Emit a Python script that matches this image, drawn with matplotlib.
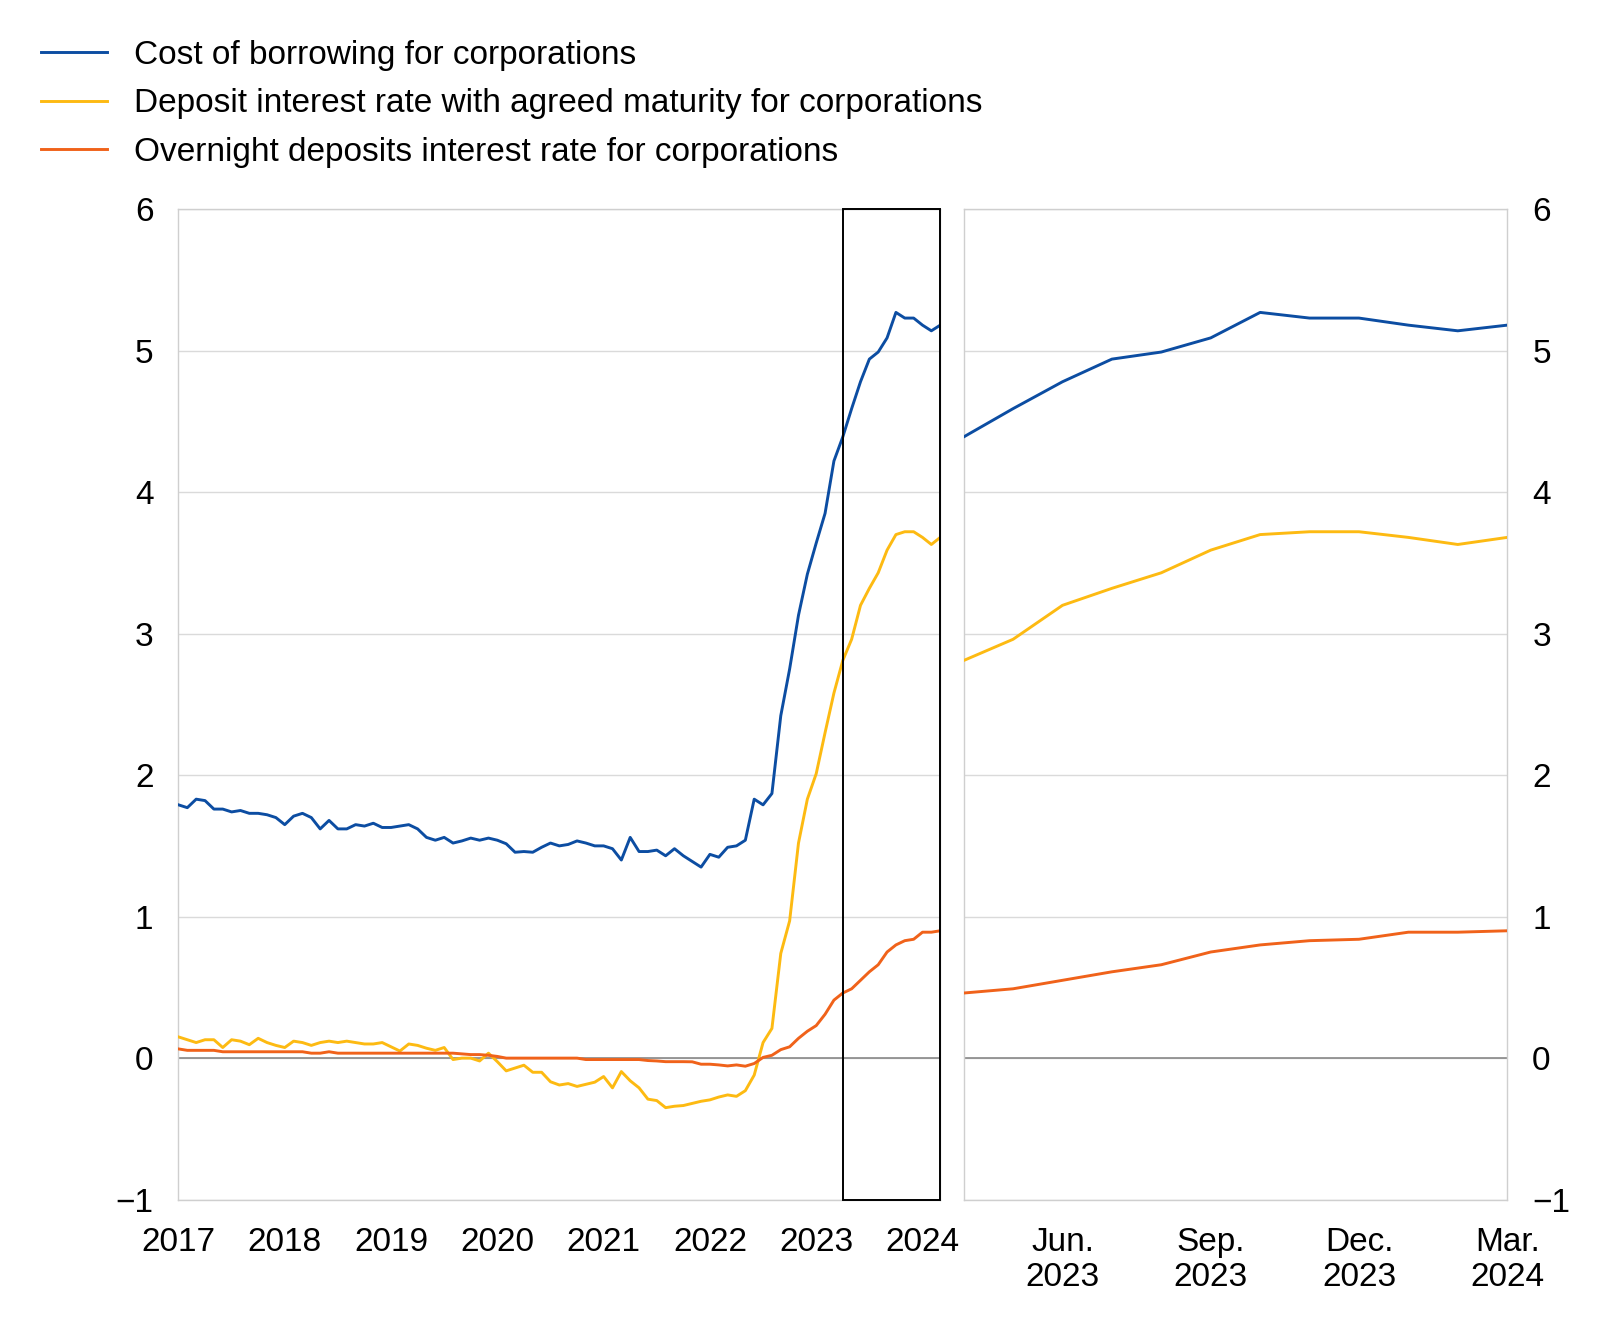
import matplotlib
matplotlib.use("Agg")
import matplotlib.pyplot as plt
from matplotlib.patches import Rectangle
import numpy as np

plt.rcParams['font.family'] = ['Liberation Sans', 'DejaVu Sans']

# ---------------- data (monthly, Jan 2017 - Mar 2024) ----------------
cost_borrowing = [
    1.79, 1.77, 1.83, 1.82, 1.76, 1.76, 1.74, 1.75, 1.73, 1.73, 1.72, 1.70,   # 2017
    1.65, 1.71, 1.73, 1.70, 1.62, 1.68, 1.62, 1.62, 1.65, 1.64, 1.66, 1.63,   # 2018
    1.63, 1.64, 1.65, 1.62, 1.56, 1.54, 1.56, 1.52, 1.535, 1.555, 1.54, 1.555,  # 2019
    1.54, 1.515, 1.455, 1.46, 1.455, 1.49, 1.52, 1.50, 1.51, 1.535, 1.52, 1.50,  # 2020
    1.50, 1.48, 1.40, 1.56, 1.46, 1.46, 1.47, 1.43, 1.48, 1.43, 1.39, 1.35,   # 2021
    1.44, 1.42, 1.49, 1.50, 1.54, 1.83, 1.79, 1.87, 2.42, 2.75, 3.13, 3.42,   # 2022
    3.64, 3.85, 4.22, 4.39, 4.59, 4.78, 4.94, 4.99, 5.09, 5.27, 5.23, 5.23,   # 2023
    5.18, 5.14, 5.18,                                                         # 2024
]
deposit_agreed = [
    0.15, 0.13, 0.11, 0.13, 0.13, 0.075, 0.13, 0.12, 0.095, 0.14, 0.11, 0.09,
    0.075, 0.12, 0.11, 0.09, 0.11, 0.12, 0.11, 0.12, 0.11, 0.10, 0.10, 0.11,
    0.08, 0.05, 0.10, 0.09, 0.07, 0.055, 0.075, -0.01, 0.00, 0.00, -0.02, 0.035,
    -0.025, -0.09, -0.07, -0.05, -0.10, -0.10, -0.167, -0.19, -0.18, -0.20, -0.185, -0.17,
    -0.13, -0.21, -0.095, -0.16, -0.21, -0.29, -0.30, -0.35, -0.34, -0.335, -0.32, -0.305,
    -0.295, -0.275, -0.26, -0.27, -0.23, -0.12, 0.11, 0.21, 0.74, 0.97, 1.52, 1.83,
    2.01, 2.30, 2.58, 2.81, 2.96, 3.20, 3.32, 3.43, 3.59, 3.70, 3.72, 3.72,
    3.68, 3.63, 3.68,
]
overnight = [
    0.065, 0.055, 0.055, 0.055, 0.055, 0.045, 0.045, 0.045, 0.045, 0.045, 0.045, 0.045,
    0.045, 0.045, 0.045, 0.035, 0.035, 0.045, 0.035, 0.035, 0.035, 0.035, 0.035, 0.035,
    0.035, 0.035, 0.035, 0.035, 0.035, 0.035, 0.035, 0.035, 0.03, 0.025, 0.025, 0.02,
    0.012, 0.0, 0.0, 0.0, 0.0, 0.0, 0.0, 0.0, 0.0, 0.0, -0.01, -0.01,
    -0.01, -0.01, -0.01, -0.01, -0.01, -0.017, -0.02, -0.025, -0.025, -0.025, -0.026, -0.043,
    -0.043, -0.048, -0.055, -0.048, -0.057, -0.038, 0.005, 0.02, 0.06, 0.08, 0.14, 0.19,
    0.23, 0.31, 0.41, 0.46, 0.49, 0.55, 0.61, 0.66, 0.75, 0.80, 0.83, 0.84,
    0.89, 0.89, 0.90,
]

series_labels = [
    "Cost of borrowing for corporations",
    "Deposit interest rate with agreed maturity for corporations",
    "Overnight deposits interest rate for corporations",
]
series_colors = ["#0C4DA2", "#FDBA12", "#F0621A"]

year_labels = ["2017", "2018", "2019", "2020", "2021", "2022", "2023", "2024"]
zoom_start = 75  # April 2023 (index in monthly series)
zoom_tick_labels = ["Jun.\n2023", "Sep.\n2023", "Dec.\n2023", "Mar.\n2024"]
zoom_tick_months = [2, 5, 8, 11]  # offsets from April 2023
y_ticks = [-1, 0, 1, 2, 3, 4, 5, 6]

# ---------------- figure ----------------
fig = plt.figure(figsize=(16, 13.2), dpi=100)
W, H = 1569.0, 1294.0
axL = fig.add_axes([175 / W, 1 - 1176 / H, (922 - 175) / W, (1176 - 205) / H])
axR = fig.add_axes([945 / W, 1 - 1176 / H, (1478 - 945) / W, (1176 - 205) / H])

all_series = [cost_borrowing, deposit_agreed, overnight]
x_full = np.arange(len(cost_borrowing))
handles = []
for s, c, lab in zip(all_series, series_colors, series_labels):
    h, = axL.plot(x_full, s, color=c, lw=2.1, label=lab, zorder=3)
    handles.append(h)
    sub = s[zoom_start:]
    axR.plot(np.arange(len(sub)), sub, color=c, lw=2.1, zorder=3)

FS = 24
grid_c = "#DADADA"
for ax in (axL, axR):
    ax.set_ylim(-1, 6)
    ax.set_yticks(y_ticks)
    ax.set_yticklabels([("\u2212" + str(abs(v))) if v < 0 else str(v) for v in y_ticks])
    ax.grid(axis='y', color=grid_c, lw=1.0, zorder=0)
    ax.axhline(0, color="#808080", lw=1.1, zorder=2)
    for sp in ax.spines.values():
        sp.set_color("#CFCFCF")
        sp.set_linewidth(1.0)
    ax.tick_params(length=0, labelsize=FS, pad=18)

axL.set_xlim(0, len(cost_borrowing) - 1)
axL.set_xticks(np.arange(0, 12 * len(year_labels), 12))
axL.set_xticklabels(year_labels)
axL.tick_params(axis='x', pad=20)

axR.set_xlim(0, len(cost_borrowing) - 1 - zoom_start)
axR.set_xticks(zoom_tick_months)
axR.set_xticklabels(zoom_tick_labels, linespacing=1.15)
axR.tick_params(axis='x', pad=20)
axR.yaxis.tick_right()
axR.tick_params(axis='y', labelleft=False, labelright=True)

# box highlighting the zoomed period
rect = Rectangle((zoom_start, -1), len(cost_borrowing) - 1 - zoom_start, 7,
                 fill=False, edgecolor="black", lw=1.4, zorder=5, clip_on=False)
axL.add_patch(rect)

fig.legend(handles=handles, labels=series_labels, loc='upper left',
           bbox_to_anchor=(40 / W, 1 - 39 / H), frameon=False, fontsize=FS,
           handlelength=2.0, handletextpad=0.8, labelspacing=0.53,
           borderpad=0, borderaxespad=0)

fig.savefig("out.png", dpi=100)
